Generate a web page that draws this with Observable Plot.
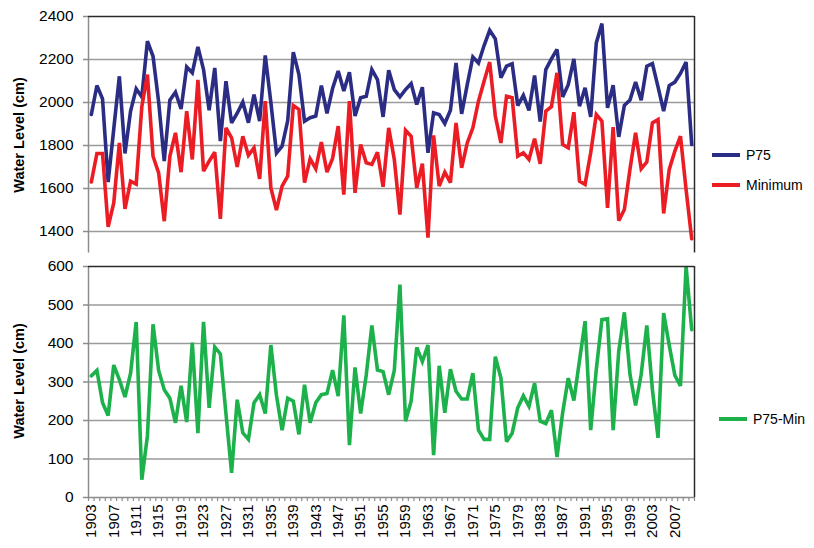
<!DOCTYPE html>
<html>
<head>
<meta charset="utf-8">
<script src="https://cdn.jsdelivr.net/npm/d3@7"></script>
<script src="https://cdn.jsdelivr.net/npm/@observablehq/plot@0.6"></script>
<style>
  body { margin: 0; background: #fff; font-family: "Liberation Sans", Arial, sans-serif; }
  #chart { position: relative; width: 814px; height: 548px; overflow: hidden; }
  #chart svg { position: absolute; left: 0; }
  .ytitle { position: absolute; font-weight: bold; font-size: 14.5px; color: #000; white-space: nowrap;
            transform: translate(-50%, -50%) rotate(-90deg); }
  .leg { position: absolute; display: flex; align-items: center; font-size: 14px; color: #000; white-space: nowrap; }
  .leg span.sw { display: inline-block; width: 28px; height: 4px; margin-right: 6px; }
</style>
</head>
<body>
<div id="chart"></div>
<script>
// ---- data ----
const firstYear = 1903;
const p75 = [
  1944, 2079, 2017, 1630, 1877, 2122, 1763, 1960, 2064, 2026,
  2285, 2215, 2003, 1727, 2011, 2048, 1970, 2165, 2138, 2259,
  2153, 1964, 2161, 1820, 2099, 1905, 1950, 2002, 1906, 2037,
  1913, 2219, 2000, 1765, 1797, 1915, 2234, 2130, 1913, 1929,
  1937, 2079, 1949, 2065, 2146, 2053, 2141, 1937, 2022, 2029,
  2153, 2107, 1933, 2150, 2060, 2026, 2060, 2088, 1991, 2071,
  1766, 1952, 1944, 1902, 1964, 2184, 1947, 2083, 2212, 2184,
  2265, 2336, 2296, 2115, 2169, 2180, 1986, 2033, 1963, 2126,
  1911, 2153, 2203, 2247, 2026, 2083, 2203, 1983, 2068, 1933,
  2277, 2367, 1975, 2080, 1840, 1986, 2011, 2095, 2011, 2169,
  2181, 2073, 1960, 2079, 2095, 2135, 2188, 1805
];
const minimum = [
  1630, 1763, 1763, 1422, 1533, 1812, 1505, 1634, 1620, 1980,
  2130, 1750, 1673, 1448, 1750, 1859, 1676, 1960, 1735, 2105,
  1681, 1727, 1769, 1459, 1882, 1836, 1700, 1843, 1754, 1789,
  1645, 2006, 1603, 1500, 1611, 1657, 1986, 1968, 1627, 1738,
  1692, 1816, 1676, 1740, 1890, 1572, 2006, 1580, 1805, 1720,
  1712, 1769, 1608, 1882, 1735, 1479, 1871, 1843, 1603, 1716,
  1371, 1847, 1611, 1676, 1627, 1905, 1696, 1812, 1882, 2006,
  2099, 2188, 1937, 1812, 2029, 2022, 1750, 1766, 1735, 1832,
  1715, 1960, 1980, 2138, 1805, 1789, 1955, 1634, 1619, 1766,
  1944, 1913, 1510, 1885, 1450, 1502, 1689, 1859, 1692, 1723,
  1905, 1921, 1484, 1689, 1774, 1843, 1595, 1366
];
const p75MinusMin = [
  316, 330, 246, 213, 344, 306, 261, 323, 456, 46,
  160, 450, 330, 280, 258, 194, 290, 196, 402, 167,
  456, 233, 391, 373, 217, 64, 254, 168, 151, 246,
  267, 218, 396, 265, 175, 258, 250, 164, 293, 194,
  246, 267, 270, 331, 263, 473, 136, 338, 218, 318,
  447, 331, 327, 267, 330, 553, 198, 250, 390, 353,
  396, 110, 342, 220, 333, 276, 256, 256, 323, 175,
  151, 151, 366, 310, 145, 167, 233, 264, 237, 297,
  198, 192, 227, 105, 220, 310, 252, 355, 458, 175,
  333, 462, 464, 175, 380, 481, 320, 239, 320, 447,
  280, 155, 479, 395, 317, 290, 600, 436
];
const topTicks = [1400, 1600, 1800, 2000, 2200, 2400];
const topDomain = [1300, 2400];
const bottomTicks = [0, 100, 200, 300, 400, 500, 600];
const bottomDomain = [0, 600];
const labelYears = [1903, 1907, 1911, 1915, 1919, 1923, 1927, 1931, 1935, 1939, 1943, 1947, 1951,
  1955, 1959, 1963, 1967, 1971, 1975, 1979, 1983, 1987, 1991, 1995, 1999, 2003, 2007];
const seriesNames = ["P75", "Minimum", "P75-Min"];
const colors = {"P75": "#2b2d84", "Minimum": "#ec1c24", "P75-Min": "#1db14b"};
const yTitle = "Water Level (cm)";

// ---- derived tables ----
const years = p75.map((_, i) => firstYear + i);
const topData = years.flatMap((yr, i) => [
  {year: yr, value: p75[i], series: "P75"},
  {year: yr, value: minimum[i], series: "Minimum"}
]);
const bottomData = years.map((yr, i) => ({year: yr, value: p75MinusMin[i], series: "P75-Min"}));
const xDomain = [years[0] - 0.5, years[years.length - 1] + 0.5];
const boundaries = years.map(y => y - 0.5).concat([years[years.length - 1] + 0.5]);

const W = 814, ML = 88, MR = 120;
const gridColor = "#9a9a9a", axisColor = "#8c8c8c", frameColor = "#2a2a2a";
const fontStyle = {fontFamily: "'Liberation Sans', Arial, sans-serif", fontSize: "15px", background: "transparent", color: "#000", overflow: "visible"};

const topPlot = Plot.plot({
  width: W, height: 262,
  marginLeft: ML, marginRight: MR, marginTop: 16, marginBottom: 9.5,
  style: fontStyle,
  x: {domain: xDomain, axis: null},
  y: {domain: topDomain},
  color: {domain: seriesNames, range: seriesNames.map(s => colors[s])},
  marks: [
    Plot.ruleY(topTicks.slice(0, -1), {stroke: gridColor, strokeWidth: 1.5}),
    Plot.ruleX([xDomain[0]], {stroke: axisColor, strokeWidth: 1.5}),
    Plot.axisY(topTicks, {tickSize: 5, tickPadding: 10, stroke: axisColor, strokeWidth: 1.5, fill: "#000",
      fontSize: 15.5, tickFormat: d => String(d), label: null}),
    Plot.line(topData, {x: "year", y: "value", z: "series", stroke: "series", strokeWidth: 3.6,
      strokeLinejoin: "miter", strokeMiterlimit: 3}),
    Plot.ruleY([topDomain[1]], {stroke: frameColor, strokeWidth: 1.5}),
    Plot.ruleX([xDomain[1]], {stroke: frameColor, strokeWidth: 1.5})
  ]
});
topPlot.style.top = "0px";

const bottomPlot = Plot.plot({
  width: W, height: 298,
  marginLeft: ML, marginRight: MR, marginTop: 16, marginBottom: 51,
  style: fontStyle,
  x: {domain: xDomain},
  y: {domain: bottomDomain},
  color: {domain: seriesNames, range: seriesNames.map(s => colors[s])},
  marks: [
    Plot.ruleY(bottomTicks.slice(1, -1), {stroke: gridColor, strokeWidth: 1.5}),
    Plot.ruleX([xDomain[0]], {stroke: axisColor, strokeWidth: 1.5}),
    Plot.axisY(bottomTicks, {tickSize: 5, tickPadding: 10, stroke: axisColor, strokeWidth: 1.5, fill: "#000",
      fontSize: 15.5, tickFormat: d => String(d), label: null}),
    Plot.axisX(boundaries, {tickSize: 4, stroke: axisColor, strokeWidth: 1.2, tickFormat: () => "", label: null}),
    Plot.axisX(labelYears, {tickSize: 0, tickPadding: 7, tickRotate: -90, fill: "#000", fontSize: 15,
      tickFormat: d => String(d), label: null}),
    Plot.ruleY([bottomDomain[0]], {stroke: axisColor, strokeWidth: 1.5}),
    Plot.line(bottomData, {x: "year", y: "value", z: "series", stroke: "series", strokeWidth: 3.6,
      strokeLinejoin: "miter", strokeMiterlimit: 3}),
    Plot.ruleY([bottomDomain[1]], {stroke: frameColor, strokeWidth: 1.5}),
    Plot.ruleX([xDomain[1]], {stroke: frameColor, strokeWidth: 1.5})
  ]
});
bottomPlot.style.top = "250px";

const chart = document.getElementById("chart");
chart.appendChild(topPlot);
chart.appendChild(bottomPlot);

// y-axis titles
[[135], [381]].forEach(([cy]) => {
  const t = document.createElement("div");
  t.className = "ytitle";
  t.textContent = yTitle;
  t.style.left = "19px";
  t.style.top = cy + "px";
  chart.appendChild(t);
});

// legends
[["P75", 155, 712], ["Minimum", 185, 712], ["P75-Min", 419, 719]].forEach(([name, cy, lx]) => {
  const d = document.createElement("div");
  d.className = "leg";
  d.style.left = lx + "px";
  d.style.top = (cy - 9) + "px";
  d.style.height = "18px";
  const sw = document.createElement("span");
  sw.className = "sw";
  sw.style.background = colors[name];
  d.appendChild(sw);
  d.appendChild(document.createTextNode(name));
  chart.appendChild(d);
});
</script>
</body>
</html>
